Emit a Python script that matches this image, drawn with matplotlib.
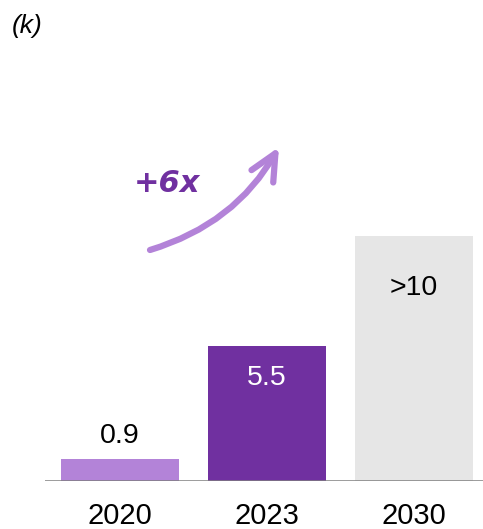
import matplotlib.pyplot as plt

plt.rcParams['font.family'] = ['Liberation Sans', 'DejaVu Sans']

years = ['2020', '2023', '2030']
values = [0.9, 5.5, 10]
labels = ['0.9', '5.5', '>10']
colors = ['#B383D8', '#7030A0', '#E6E6E6']
text_colors = ['black', 'white', 'black']
# where the value label sits relative to the bar top, in px (+ above, - inside)
label_offsets = [23, -32, -52]

W, H = 483, 529
fig = plt.figure(figsize=(W / 100, H / 100), dpi=100)
ax = fig.add_axes([45 / W, (H - 481) / H, 1 - 45 / W, (481 - 60) / H])

x = list(range(len(years)))
ax.bar(x, values, width=0.8, color=colors, zorder=1)
ax.axhline(0, color='#7f7f7f', lw=1.8, zorder=3)

ppu = 24.5  # px per unit on y
for xi, v, lab, tc, off in zip(x, values, labels, text_colors, label_offsets):
    ax.text(xi, v + off / ppu, lab, ha='center', va='center', fontsize=20.5, color=tc)
    ax.text(xi, -34.5 / ppu, years[xi], ha='center', va='center', fontsize=21,
            color='black', clip_on=False)

ax.set_xlim(-0.51, 2.47)
ax.set_ylim(0, (481 - 60) / ppu)
ax.axis('off')

fig.text(12 / W, 1 - 26 / H, '(k)', fontsize=19, style='italic', va='center', ha='left')

# hand-drawn style growth arrow
ax.annotate('', xy=(279, H - 147), xytext=(150, H - 250),
            xycoords='figure pixels', textcoords='figure pixels',
            arrowprops=dict(arrowstyle='->,head_length=1.9,head_width=0.9',
                            connectionstyle='arc3,rad=0.2', color='#B383D8',
                            lw=4.5, shrinkA=0, shrinkB=0))
fig.text(167 / W, 1 - 184 / H, '+6x', fontsize=22, fontweight='bold', style='italic',
         color='#7030A0', ha='center', va='center', family='DejaVu Sans')

fig.savefig('out.png', dpi=100)
